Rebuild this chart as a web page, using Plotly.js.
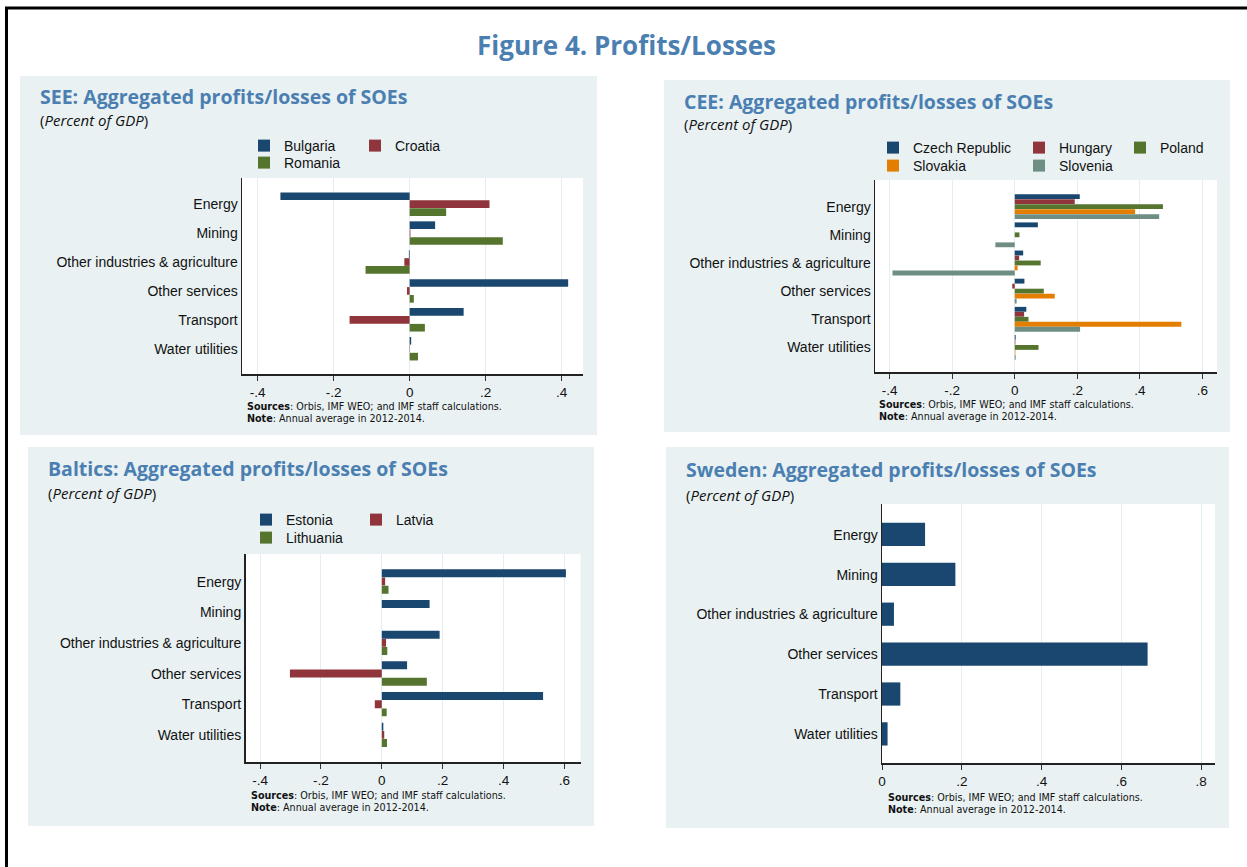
<!DOCTYPE html>
<html>
<head>
<meta charset="utf-8">
<script src="https://cdn.plot.ly/plotly-3.0.1.min.js"></script>
<style>html,body{margin:0;padding:0;background:#fff;}#chart{width:1247px;height:867px;}</style>
</head>
<body>
<div id="chart"></div>
<script>
// ---------- DATA ----------
const categories = ["Energy", "Mining", "Other industries & agriculture", "Other services", "Transport", "Water utilities"];
const xTickVals = [-0.4, -0.2, 0, 0.2, 0.4, 0.6, 0.8];
const xTickText = ["-.4", "-.2", "0", ".2", ".4", ".6", ".8"];

// SEE
const seeBulgaria = [-0.340, 0.067, -0.002, 0.417, 0.142, 0.004];
const seeCroatia  = [0.210, 0.002, -0.014, -0.007, -0.158, 0.001];
const seeRomania  = [0.096, 0.245, -0.116, 0.011, 0.040, 0.022];

// CEE
const ceeCzech    = [0.208, 0.074, 0.027, 0.031, 0.037, 0.003];
const ceeHungary  = [0.192, 0.000, 0.014, -0.008, 0.030, 0.002];
const ceePoland   = [0.474, 0.015, 0.083, 0.093, 0.044, 0.076];
const ceeSlovakia = [0.385, 0.000, 0.009, 0.128, 0.533, 0.002];
const ceeSlovenia = [0.462, -0.062, -0.391, 0.006, 0.209, 0.003];

// Baltics
const balEstonia   = [0.605, 0.157, 0.190, 0.083, 0.530, 0.005];
const balLatvia    = [0.011, 0.000, 0.014, -0.302, -0.023, 0.008];
const balLithuania = [0.022, 0.000, 0.018, 0.148, 0.016, 0.017];

// Sweden
const sweden = [0.108, 0.184, 0.030, 0.666, 0.046, 0.014];

// ---------- STYLE ----------
const W = 1247, H = 867;
const C = {navy:'#1a476f', maroon:'#90353b', green:'#55752f', orange:'#e37e00', slate:'#6e8e84'};
const panelBg = '#e9f1f3';
const titleColor = '#4b7fb1';
const px = v => v / W;
const py = v => 1 - v / H;
const sansFont = 'Liberation Sans, Arial, sans-serif';

// panels: bg box, plot box (pixels), x range, y range (category units, reversed)
const panels = [
  {key:'', bg:[20, 76, 597, 435], plot:[242, 178, 583, 374], xr:[-0.441, 0.456], yr:[5.87, -0.91], ticks:[-0.4,-0.2,0,0.2,0.4],
   title:'SEE: Aggregated profits/losses of SOEs', tpos:[38, 98, 118], src:[245, 404]},
  {key:'2', bg:[664, 80, 1230, 432], plot:[875, 180, 1217, 372], xr:[-0.447, 0.647], yr:[5.87, -0.95], ticks:[-0.4,-0.2,0,0.2,0.4,0.6],
   title:'CEE: Aggregated profits/losses of SOEs', tpos:[682, 103, 123], src:[877, 402]},
  {key:'3', bg:[28, 447, 594, 826], plot:[245.5, 554, 580.5, 762], xr:[-0.448, 0.653], yr:[5.88, -0.90], ticks:[-0.4,-0.2,0,0.2,0.4,0.6],
   title:'Baltics: Aggregated profits/losses of SOEs', tpos:[46, 470, 491], src:[249, 793]},
  {key:'4', bg:[666, 447, 1229, 828], plot:[882, 504, 1215, 763], xr:[0, 0.835], yr:[5.72, -0.77], ticks:[0,0.2,0.4,0.6,0.8],
   title:'Sweden: Aggregated profits/losses of SOEs', tpos:[684, 471, 493], src:[886, 795]}
];

const traces = [];
let legendCount = 0;
const legendDefs = {};
function addGroup(pIdx, series, thick, legendPos) {
  const p = panels[pIdx];
  const n = series.length;
  const w = thick / n;
  series.forEach((s, i) => {
    let legendName = null;
    if (legendPos) {
      legendCount++;
      legendName = legendCount === 1 ? 'legend' : 'legend' + legendCount;
      const lp = legendPos[i];
      legendDefs[legendName] = {
        x: px(lp[0] - 40), y: py(lp[1]), xanchor:'left', yanchor:'middle',
        bgcolor:'rgba(0,0,0,0)', borderwidth:0, itemwidth:30,
        font:{family:sansFont, size:14, color:'#111'}
      };
    }
    const t = {
      type:'bar', orientation:'h', name:s.name, x:s.values, y:categories,
      xaxis:'x' + p.key, yaxis:'y' + p.key,
      width:w * 0.97, offset:-thick/2 + i * w,
      marker:{color:s.color, line:{width:0}},
      showlegend: !!legendPos, hoverinfo:'x+name'
    };
    if (legendName) t.legend = legendName;
    traces.push(t);
  });
}

addGroup(0, [
  {name:'Bulgaria', values:seeBulgaria, color:C.navy},
  {name:'Croatia', values:seeCroatia, color:C.maroon},
  {name:'Romania', values:seeRomania, color:C.green}
], 0.82, [[284,146],[395,146],[284,163]]);

addGroup(1, [
  {name:'Czech Republic', values:ceeCzech, color:C.navy},
  {name:'Hungary', values:ceeHungary, color:C.maroon},
  {name:'Poland', values:ceePoland, color:C.green},
  {name:'Slovakia', values:ceeSlovakia, color:C.orange},
  {name:'Slovenia', values:ceeSlovenia, color:C.slate}
], 0.887, [[913,148],[1059,148],[1160,148],[913,166],[1059,166]]);

addGroup(2, [
  {name:'Estonia', values:balEstonia, color:C.navy},
  {name:'Latvia', values:balLatvia, color:C.maroon},
  {name:'Lithuania', values:balLithuania, color:C.green}
], 0.80, [[286,520],[396,520],[286,538]]);

addGroup(3, [
  {name:'Sweden', values:sweden, color:C.navy}
], 0.60, null);

const layout = {
  width: W, height: H,
  margin:{l:0, r:0, t:0, b:0, pad:0},
  paper_bgcolor:'#ffffff', plot_bgcolor:'rgba(0,0,0,0)',
  barmode:'overlay',
  font:{family:sansFont, size:14, color:'#111'},
  shapes:[], annotations:[],
  hovermode:false
};
Object.assign(layout, legendDefs);

// border
layout.shapes.push({type:'path', xref:'paper', yref:'paper', path:`M ${px(6.5)} ${py(867)} L ${px(6.5)} ${py(8)} L ${px(1247)} ${py(8)}`, line:{color:'#000', width:3}, layer:'above'});

// main title
layout.annotations.push({xref:'paper', yref:'paper', x:px(627), y:py(45), xanchor:'center', yanchor:'middle', showarrow:false,
  text:'<b>Figure 4. Profits/Losses</b>', font:{family:'Open Sans, sans-serif', size:26, color:titleColor}});

panels.forEach(p => {
  const xa = 'xaxis' + p.key, ya = 'yaxis' + p.key;
  layout[xa] = {
    domain:[px(p.plot[0]), px(p.plot[2])], anchor:'y' + p.key, range:p.xr, fixedrange:true,
    tickmode:'array', tickvals:p.ticks, ticktext:p.ticks.map(v => xTickText[xTickVals.indexOf(v)]),
    ticks:'outside', ticklen:5, tickwidth:1, tickcolor:'#333',
    showgrid:true, gridcolor:'#e4edf0', gridwidth:1, zeroline:false,
    showline:true, linecolor:'#222', linewidth:1.5,
    tickfont:{family:sansFont, size:13.5, color:'#111'}
  };
  layout[ya] = {
    domain:[py(p.plot[3]), py(p.plot[1])], anchor:'x' + p.key, type:'category',
    categoryorder:'array', categoryarray:categories, range:p.yr, fixedrange:true,
    showgrid:false, zeroline:false, ticks:'', showline:true, linecolor:'#222', linewidth:1.5,
    ticklabelstandoff:0,
    tickfont:{family:sansFont, size:14, color:'#111'}
  };
  // panel background
  layout.shapes.push({type:'rect', xref:'paper', yref:'paper', x0:px(p.bg[0]), x1:px(p.bg[2]), y0:py(p.bg[3]), y1:py(p.bg[1]),
    fillcolor:panelBg, line:{width:0}, layer:'below'});
  // white plot region
  layout.shapes.push({type:'rect', xref:'x' + p.key + ' domain', yref:'y' + p.key + ' domain', x0:0, x1:1, y0:0, y1:1,
    fillcolor:'#ffffff', line:{width:0}, layer:'below'});
  // panel title
  layout.annotations.push({xref:'paper', yref:'paper', x:px(p.tpos[0]), y:py(p.tpos[1] - 1.5), xanchor:'left', yanchor:'middle', showarrow:false,
    text:'<b>' + p.title + '</b>', font:{family:'Open Sans, sans-serif', size:19.5, color:titleColor}});
  // subtitle
  layout.annotations.push({xref:'paper', yref:'paper', x:px(p.tpos[0]), y:py(p.tpos[2] + 1.5), xanchor:'left', yanchor:'middle', showarrow:false,
    text:'(<i>Percent of GDP</i>)', font:{family:'Open Sans, sans-serif', size:15, color:'#111'}});
  // sources & note (one text block, two lines)
  layout.annotations.push({xref:'paper', yref:'paper', x:px(p.src[0]), y:py(p.src[1] + 8), xanchor:'left', yanchor:'middle', showarrow:false, align:'left',
    text:'<b>Sources</b>: Orbis, IMF WEO; and IMF staff calculations.<br><b>Note</b>: Annual average in 2012-2014.',
    font:{family:'DejaVu Sans, sans-serif', size:9.6, color:'#111'}});
});

Plotly.newPlot('chart', traces, layout, {displayModeBar:false, staticPlot:true});
</script>
</body>
</html>
